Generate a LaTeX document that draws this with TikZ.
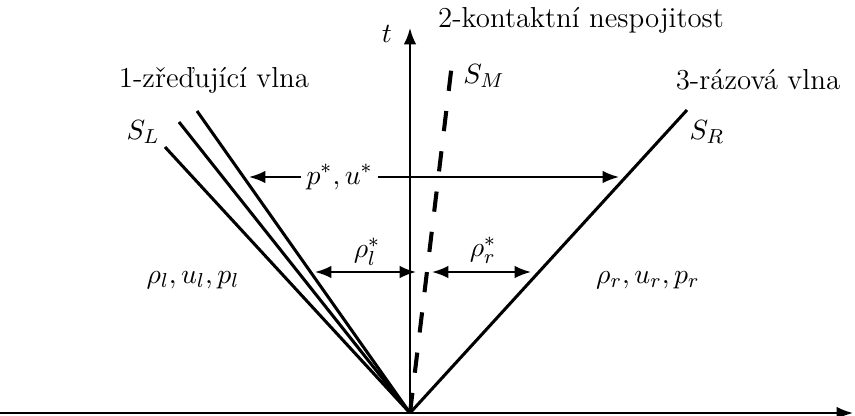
\documentclass[tikz,border=0pt]{standalone}
\usepackage{fontspec}
\usetikzlibrary{arrows.meta}
\begin{document}
\begin{tikzpicture}[x=0.3945pt,y=-0.3945pt,
  every node/.append style={font=\fontsize{11.4}{13.7}\selectfont},
  axis/.style={line width=0.8pt,-{Latex[length=6.5pt,width=5pt]}},
  wave/.style={line width=1.2pt},
  contact/.style={line width=1.6pt,dash pattern=on 8pt off 8pt},
  dbl/.style={line width=0.8pt,{Latex[length=6.5pt,width=5pt]}-{Latex[length=6.5pt,width=5pt]}},
  lbl/.style={inner sep=1pt}]
\useasboundingbox (0,0) rectangle (855,416);
% key points
\coordinate (O) at (410,413);
\coordinate (xs) at (0,413);
\coordinate (xe) at (853,413);
\coordinate (te) at (410,28);
\coordinate (L1) at (165,147);
\coordinate (L2) at (179,122);
\coordinate (L3) at (197,111);
\coordinate (R) at (687,110);
\coordinate (M) at (453,55);
% axes
\draw[axis] (xs) -- (xe);
\draw[axis] (O) -- (te);
\node[lbl] (t) at (387,34) {$t$};
% waves
\draw[wave] (O) -- (L1);
\draw[wave] (O) -- (L2);
\draw[wave] (O) -- (L3);
\draw[wave] (O) -- (R);
\draw[contact] (O) -- (M);
% titles
\node[lbl] (w1) at (214,80) {1-zřeďující vlna};
\node[lbl] (w2) at (581,20) {2-kontaktní nespojitost};
\node[lbl] (w3) at (758,80) {3-rázová vlna};
\node[lbl] (SL) at (143,132) {$S_L$};
\node[lbl] (SM) at (484,76) {$S_M$};
\node[lbl] (SR) at (707,132) {$S_R$};
% star region arrows
\coordinate (pa) at (249,177);
\coordinate (pb) at (619,177);
\draw[dbl] (pa) -- (pb) node[pos=0.245,fill=white,inner sep=2pt] (pu) {$p^*, u^*$};
\coordinate (rla) at (315,272);
\coordinate (rlb) at (416,272);
\coordinate (rra) at (432,272);
\coordinate (rrb) at (531,272);
\draw[dbl] (rla) -- (rlb);
\draw[dbl] (rra) -- (rrb);
\node[lbl] (rl) at (367,252) {$\rho_l^*$};
\node[lbl] (rr) at (483,250) {$\rho_r^*$};
\node[lbl] (Ll) at (193,280) {$\rho_l, u_l, p_l$};
\node[lbl] (Rr) at (648,280) {$\rho_r, u_r, p_r$};
\end{tikzpicture}
\end{document}
